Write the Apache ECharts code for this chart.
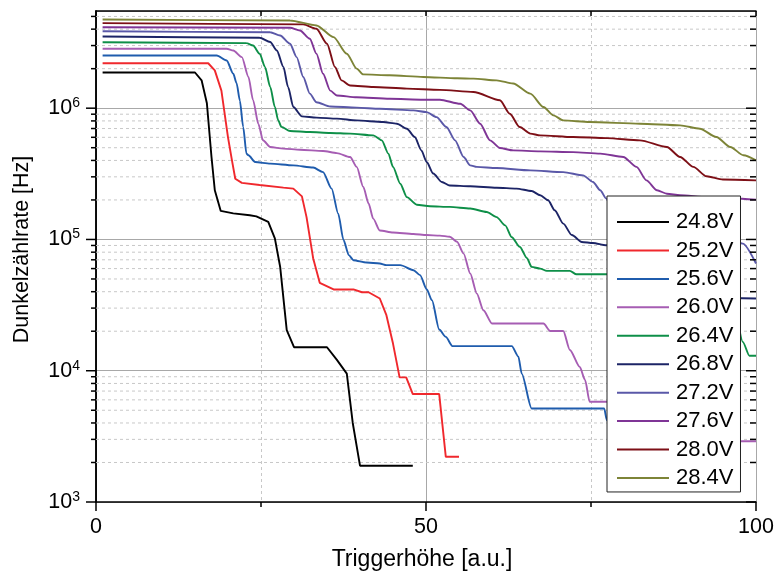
<!DOCTYPE html>
<html><head><meta charset="utf-8">
<script src="https://cdn.jsdelivr.net/npm/echarts@6/dist/echarts.min.js"></script>
<style>html,body{margin:0;padding:0;background:#fff}#c{width:777px;height:577px}</style>
</head><body><div id="c"></div>
<script>
const labels = ['24.8V','25.2V','25.6V','26.0V','26.4V','26.8V','27.2V','27.6V','28.0V','28.4V'];
const colors = ['#000000','#f0282d','#1f5cad','#a65db3','#0e8f48','#1c2466','#5a58a8','#7f3596','#7d0f16','#7d8437'];

const s248 = [[1,1.87e6],[15,1.87e6],[16,1.63e6],[16.8,1.09e6],[17.5,4.25e5],[18,2.37e5],[18.9,1.65e5],[20.8,1.58e5],[23.3,1.53e5],[24.3,1.5e5],[26.1,1.36e5],[27.1,1.02e5],[27.9,6.2e4],[28.9,2.04e4],[30,1.51e4],[35,1.51e4],[36.5,1.21e4],[38,9.5e3],[38.9,4.0e3],[40,1.89e3],[48,1.89e3]];
const s252 = [[1,2.2e6],[17,2.2e6],[18,1.94e6],[19,1.36e6],[20,6.0e5],[20.6,4.0e5],[21.1,2.9e5],[22.1,2.7e5],[24.8,2.6e5],[28.4,2.48e5],[29.9,2.44e5],[31.2,2.13e5],[31.9,1.48e5],[32.9,7.2e4],[33.9,4.67e4],[36,4.16e4],[39,4.16e4],[40.3,3.96e4],[41.3,3.96e4],[43,3.55e4],[44,2.65e4],[45,1.61e4],[46,8.9e3],[47,8.9e3],[48,6.64e3],[52,6.64e3],[53,2.21e3],[55,2.21e3]];
const s256 = [[1,2.52e6],[18.3,2.52e6],[19.8,2.31e6],[20.8,1.83e6],[21.3,1.55e6],[21.8,1.14e6],[22.3,7.2e5],[22.8,4.5e5],[23.1,4.38e5],[24.1,3.89e5],[26.4,3.78e5],[29.9,3.67e5],[32.9,3.53e5],[34.4,3.26e5],[35.7,2.44e5],[36.7,1.57e5],[37.5,9.9e4],[38.3,7.6e4],[39,6.95e4],[41,6.67e4],[43,6.56e4],[44,6.37e4],[46.1,6.37e4],[48.1,5.83e4],[49.1,5.35e4],[50.1,4.18e4],[50.9,3.44e4],[52,2.06e4],[53,1.81e4],[54,1.54e4],[63,1.54e4],[64,1.28e4],[64.5,9.5e3],[66,5.16e3],[77,5.16e3],[77.4,4.2e3],[78.5,2.4e3],[80,2.0e3],[90,2.0e3]];
const s260 = [[1,2.84e6],[19.8,2.84e6],[20.8,2.75e6],[22.1,2.45e6],[23.1,1.73e6],[23.8,1.15e6],[24.6,7.6e5],[25.3,5.7e5],[26.4,5.06e5],[28.4,4.92e5],[30.9,4.83e5],[34.4,4.72e5],[36.5,4.55e5],[38.5,4.25e5],[39.5,3.57e5],[40.5,2.51e5],[41.3,1.88e5],[42,1.44e5],[43,1.17e5],[45,1.13e5],[48.1,1.1e5],[50.1,1.08e5],[52.1,1.07e5],[53.6,1.05e5],[54.7,9.6e4],[55.7,7.8e4],[56.7,5.5e4],[57.7,3.87e4],[58.7,2.89e4],[60,2.29e4],[67.8,2.29e4],[68.8,2.01e4],[70.8,2.01e4],[71.8,1.44e4],[73.3,1.07e4],[74.1,8.5e3],[74.8,5.8e3],[77.4,5.8e3],[88,5.6e3],[90,4.0e3],[92,2.9e3],[100,2.9e3]];
const s264 = [[1,3.18e6],[22.8,3.13e6],[23.8,3.0e6],[24.8,2.6e6],[25.6,2.06e6],[26.4,1.45e6],[27.1,1.02e6],[27.6,8.1e5],[28.1,7.2e5],[29.4,6.7e5],[32.4,6.58e5],[35.5,6.47e5],[38.5,6.4e5],[42,6.21e5],[43.3,5.69e5],[44.3,4.51e5],[45,3.57e5],[46.1,2.66e5],[47.1,2.1e5],[48.6,1.84e5],[50.6,1.79e5],[53.6,1.77e5],[56.7,1.72e5],[59.2,1.62e5],[60.7,1.48e5],[62,1.28e5],[63,1.04e5],[64.2,8.8e4],[65.3,7.2e4],[66,6.18e4],[67.3,6.0e4],[68.3,5.76e4],[71.8,5.76e4],[72.8,5.43e4],[77.4,5.43e4],[95,5.1e4],[96.5,3.5e4],[98,1.66e4],[99,1.3e4],[100,1.3e4]];
const s268 = [[1,3.52e6],[24.8,3.44e6],[26.4,3.19e6],[27.4,2.75e6],[28.4,2.06e6],[29.1,1.45e6],[29.9,1.02e6],[31.2,8.66e5],[33.4,8.47e5],[36.5,8.32e5],[39.5,8.07e5],[43.5,7.84e5],[45.6,7.62e5],[47.1,6.98e5],[48.3,6.03e5],[49.3,4.77e5],[50.1,3.89e5],[51.1,3.18e5],[52.4,2.74e5],[53.6,2.58e5],[56.7,2.54e5],[60.7,2.48e5],[63.7,2.44e5],[66,2.34e5],[67.3,2.17e5],[68.5,1.99e5],[69.5,1.67e5],[70.8,1.32e5],[72.1,1.08e5],[73.6,9.57e4],[75.3,9.4e4],[77.3,9.03e4],[88,8.6e4],[90,7.0e4],[92,4.2e4],[94,3.6e4],[100,3.55e4]];
const s272 = [[1,3.86e6],[26.4,3.79e6],[27.9,3.58e6],[29.4,3.1e6],[30.4,2.45e6],[31.4,1.73e6],[32.4,1.29e6],[33.4,1.11e6],[35.5,1.03e6],[39.5,1.01e6],[43,9.9e5],[48.1,9.62e5],[50.1,9.34e5],[51.6,8.55e5],[53.1,7.18e5],[54.4,5.69e5],[55.7,4.25e5],[56.7,3.67e5],[57.7,3.57e5],[60.7,3.5e5],[65.8,3.36e5],[70.8,3.26e5],[73.8,3.08e5],[75.3,2.74e5],[76.4,2.37e5],[77.3,2.05e5],[78.5,1.5e5],[80,1.15e5],[82,1.08e5],[90,1.03e5],[95,1.0e5],[96.5,9.8e4],[98,9.3e4],[100,6.56e4]];
const s276 = [[1,4.14e6],[29.4,4.1e6],[30.9,3.91e6],[32.4,3.38e6],[33.4,2.6e6],[34.4,1.83e6],[35.5,1.36e6],[36.5,1.25e6],[39.5,1.21e6],[44.5,1.18e6],[49.6,1.16e6],[52.1,1.16e6],[55.2,1.08e6],[56.7,9.62e5],[58.2,7.62e5],[59.7,5.69e5],[61.2,4.97e5],[63.2,4.77e5],[67.3,4.69e5],[72.3,4.63e5],[76.4,4.51e5],[79.9,4.25e5],[81.9,3.57e5],[83.4,2.82e5],[85,2.37e5],[86.5,2.23e5],[88.5,2.17e5],[92.5,2.1e5],[96.6,2.05e5],[100,2.01e5]];
const s280 = [[1,4.45e6],[31.4,4.35e6],[33.4,4.03e6],[35,3.1e6],[36.2,2.06e6],[37.2,1.63e6],[38.5,1.49e6],[42,1.45e6],[47.1,1.41e6],[52.1,1.38e6],[57.2,1.33e6],[61.2,1.15e6],[62.7,9.07e5],[64.2,7.18e5],[65.8,6.4e5],[67.3,6.21e5],[72.3,6.03e5],[77.4,5.92e5],[82.4,5.69e5],[86.5,5.06e5],[88.5,4.25e5],[90.5,3.57e5],[92.5,3.03e5],[95,2.86e5],[100,2.82e5]];
const s284 = [[1,4.74e6],[29.4,4.66e6],[33.4,4.27e6],[36,3.48e6],[38,2.6e6],[39.5,2.0e6],[40.5,1.81e6],[44.5,1.78e6],[49.6,1.73e6],[54.7,1.69e6],[57.2,1.68e6],[60.7,1.63e6],[63.2,1.54e6],[65.8,1.29e6],[67.8,1.02e6],[69.3,8.81e5],[70.8,8.07e5],[74.8,7.84e5],[82.4,7.62e5],[88.5,7.4e5],[91.5,6.98e5],[94,6.03e5],[96.1,5.06e5],[98.1,4.38e5],[100,4.0e5]];

const yMajor = [1e3,1e4,1e5,1e6];
const yMinor = [2e3,3e3,4e3,5e3,6e3,7e3,8e3,9e3,2e4,3e4,4e4,5e4,6e4,7e4,8e4,9e4,2e5,3e5,4e5,5e5,6e5,7e5,8e5,9e5,2e6,3e6,4e6,5e6];
const xMin = 0, xMax = 100, yMin = 1000, yMax = 5.5e6;

const F = '"Liberation Sans", Arial, sans-serif';
const seriesData = [s248,s252,s256,s260,s264,s268,s272,s276,s280,s284];

const lineSeries = labels.map((n, i) => ({
  name: n, type: 'line', data: seriesData[i], symbol: 'none', showSymbol: false,
  smooth: i >= 2 ? 0.25 : false, smoothMonotone: 'x',
  lineStyle: { width: 1.9, color: colors[i] }, itemStyle: { color: colors[i] },
  z: 3, clip: true, animation: false
}));

const minorGrid = {
  type: 'custom', silent: true, z: 1, animation: false,
  encode: { x: 1, y: 0 },
  data: yMinor.map(v => [v, 50]),
  renderItem: (params, api) => {
    const v = api.value(0);
    const a = api.coord([xMin, v]), b = api.coord([xMax, v]);
    return { type: 'line', shape: { x1: a[0], y1: a[1], x2: b[0], y2: b[1] },
      style: { stroke: '#c8c8c8', lineWidth: 1, lineDash: [3, 3] } };
  }
};

const yTicks = {
  type: 'custom', silent: true, z: 5, animation: false,
  encode: { x: 1, y: 0 },
  data: yMajor.map(v => [v, 1]).concat(yMinor.map(v => [v, 0])),
  renderItem: (params, api) => {
    const v = api.value(0);
    const major = api.value(1) === 1;
    const a = api.coord([xMin, v]), b = api.coord([xMax, v]);
    const L = major ? 10 : 5, R = major ? 10 : 6;
    return { type: 'group', children: [
      { type: 'line', shape: { x1: a[0] - L, y1: a[1], x2: a[0], y2: a[1] }, style: { stroke: '#000', lineWidth: 1.5 } },
      { type: 'line', shape: { x1: b[0] - R, y1: b[1], x2: b[0], y2: b[1] }, style: { stroke: '#000', lineWidth: 1.5 } }
    ]};
  }
};

const chart = echarts.init(document.getElementById('c'));
chart.setOption({
  animation: false,
  backgroundColor: '#fff',
  textStyle: { fontFamily: F, color: '#000' },
  grid: { left: 96, right: 21, top: 11, bottom: 75, containLabel: false },
  legend: {
    data: labels, orient: 'vertical', left: 607, top: 196,
    icon: 'rect', itemWidth: 52, itemHeight: 2, itemGap: 6.44,
    padding: [15, 7, 3, 10], borderColor: '#222', borderWidth: 1, borderRadius: 0,
    backgroundColor: '#fff', selectedMode: false,
    textStyle: { fontSize: 22, color: '#000', fontFamily: F, lineHeight: 22, padding: [0, 0, 0, 2] }
  },
  xAxis: [
    {
      type: 'value', min: xMin, max: xMax, interval: 50, position: 'bottom',
      axisLine: { lineStyle: { color: '#000', width: 1.5 } },
      axisTick: { length: 9, lineStyle: { color: '#000', width: 1.5 } },
      minorTick: { show: true, splitNumber: 2, length: 5, lineStyle: { color: '#000', width: 1.5 } },
      splitLine: { show: true, lineStyle: { color: '#a8a8a8', width: 1 } },
      minorSplitLine: { show: true, lineStyle: { color: '#c8c8c8', width: 1, type: [3, 3] } },
      axisLabel: { fontSize: 21.5, color: '#000', margin: 14, fontFamily: F },
      name: 'Triggerhöhe [a.u.]', nameLocation: 'middle', nameGap: 46,
      nameTextStyle: { fontSize: 23, color: '#000', fontFamily: F, padding: [0, 8, 0, 0] }
    },
    {
      type: 'value', min: xMin, max: xMax, interval: 25, position: 'top',
      axisLine: { lineStyle: { color: '#000', width: 1.5 } },
      axisTick: { inside: true, length: 5, lineStyle: { color: '#000', width: 1.5 } },
      axisLabel: { show: false }, splitLine: { show: false }
    }
  ],
  yAxis: [
    {
      type: 'log', logBase: 10, min: yMin, max: yMax, position: 'left',
      axisLine: { lineStyle: { color: '#000', width: 1.5 } },
      axisTick: { show: false },
      splitLine: { show: true, lineStyle: { color: '#a8a8a8', width: 1 } },
      axisLabel: {
        margin: 16, showMaxLabel: false, showMinLabel: true,
        formatter: v => '{b|10}{s|' + Math.round(Math.log10(v)) + '}',
        rich: {
          b: { fontSize: 21.5, fontFamily: F, color: '#000', lineHeight: 24 },
          s: { fontSize: 14, fontFamily: F, color: '#000', lineHeight: 8, verticalAlign: 'top' }
        }
      },
      name: 'Dunkelzählrate [Hz]', nameLocation: 'middle', nameGap: 63,
      nameTextStyle: { fontSize: 21.5, color: '#000', fontFamily: F, padding: [0, 0, 0, 14] }
    },
    {
      type: 'log', logBase: 10, min: yMin, max: yMax, position: 'right',
      axisLine: { show: true, lineStyle: { color: '#000', width: 1.5 } },
      axisTick: { show: false }, axisLabel: { show: false }, splitLine: { show: false }
    }
  ],
  series: [minorGrid].concat(lineSeries).concat([yTicks])
});
</script></body></html>
